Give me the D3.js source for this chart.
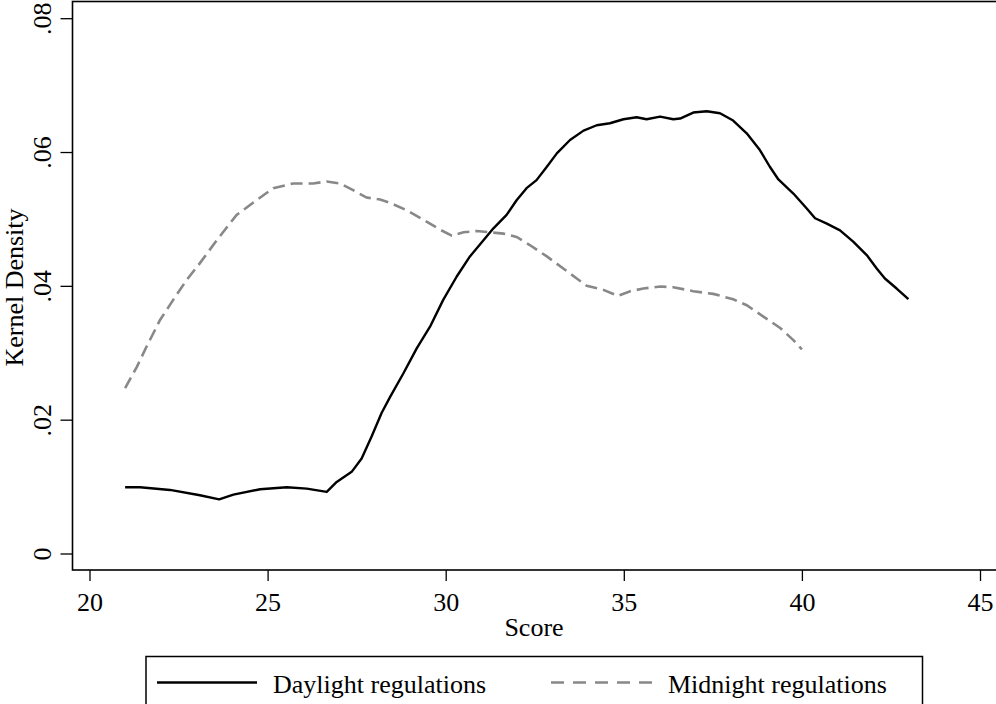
<!DOCTYPE html>
<html>
<head>
<meta charset="utf-8">
<script src="https://cdn.jsdelivr.net/npm/d3@7"></script>
<style>
  body { margin: 0; background: #fff; }
  svg text { font-family: "Liberation Serif", "Times New Roman", serif; font-size: 26px; fill: #000; }
</style>
</head>
<body>
<svg id="chart" width="996" height="704"></svg>
<script>
// data
var daylightScore = [21.0, 21.42, 22.26, 23.1, 23.64, 24.04, 24.79, 25.54, 26.1, 26.66, 26.94, 27.36, 27.64,
  27.92, 28.2, 28.44, 28.81, 29.19, 29.56, 29.93, 30.31, 30.68, 31.06, 31.34, 31.71, 31.99, 32.27, 32.55,
  32.84, 33.12, 33.49, 33.87, 34.24, 34.61, 34.99, 35.36, 35.64, 36.02, 36.39, 36.58, 36.95, 37.33, 37.7,
  38.07, 38.45, 38.82, 39.1, 39.34, 39.76, 40.13, 40.37, 40.7, 41.07, 41.44, 41.82, 42.1, 42.33, 42.66, 42.99];
var daylightDensity = [0.0099, 0.0099, 0.0095, 0.0087, 0.0081, 0.0088, 0.0096, 0.0099, 0.0097, 0.0092, 0.0107,
  0.0122, 0.0142, 0.0175, 0.0210, 0.0234, 0.0269, 0.0307, 0.0339, 0.0379, 0.0414, 0.0444, 0.0468, 0.0486,
  0.0506, 0.0528, 0.0546, 0.0558, 0.0578, 0.0598, 0.0618, 0.0632, 0.0640, 0.0643, 0.0649, 0.0652, 0.0649,
  0.0653, 0.0649, 0.0650, 0.0659, 0.0661, 0.0658, 0.0647, 0.0628, 0.0603, 0.0578, 0.0559, 0.0538, 0.0516,
  0.0501, 0.0493, 0.0483, 0.0466, 0.0446, 0.0426, 0.0411, 0.0396, 0.0380];

var midnightScore = [21.0, 21.33, 21.6, 21.98, 22.35, 22.73, 23.1, 23.57, 24.13, 24.69, 25.16, 25.72, 26.28,
  26.66, 27.03, 27.4, 27.78, 28.16, 28.44, 28.9, 29.37, 29.84, 30.17, 30.5, 30.87, 31.24, 31.62, 31.99,
  32.36, 32.84, 33.3, 33.68, 33.96, 34.43, 34.83, 35.18, 35.55, 36.02, 36.39, 36.95, 37.51, 38.07, 38.45,
  38.92, 39.39, 39.76, 40.0];
var midnightDensity = [0.0247, 0.0279, 0.0309, 0.0349, 0.0379, 0.0409, 0.0434, 0.0468, 0.0506, 0.0528, 0.0546,
  0.0553, 0.0553, 0.0556, 0.0553, 0.0543, 0.0532, 0.0529, 0.0524, 0.0513, 0.0499, 0.0484, 0.0475, 0.0480,
  0.0482, 0.0480, 0.0478, 0.0473, 0.0461, 0.0444, 0.0426, 0.0411, 0.0400, 0.0394, 0.0385, 0.0392, 0.0396,
  0.0399, 0.0398, 0.0392, 0.0388, 0.0380, 0.0371, 0.0354, 0.0337, 0.0319, 0.0305];

var xTicks = [20, 25, 30, 35, 40, 45];
var yTicks = [0, 0.02, 0.04, 0.06, 0.08];
var seriesNames = ["Daylight regulations", "Midnight regulations"];

var svg = d3.select("#chart");

var plotLeft = 72.5, plotTop = 1.5, plotBottom = 570;

var x = d3.scaleLinear().domain([20, 45]).range([89.5, 980]);
var y = d3.scaleLinear().domain([0, 0.08]).range([553.5, 18.2]);

// frame (right side falls outside the picture)
svg.append("rect")
  .attr("x", plotLeft).attr("y", plotTop)
  .attr("width", 940).attr("height", plotBottom - plotTop)
  .attr("fill", "none").attr("stroke", "#000").attr("stroke-width", 1.6);

// x axis
var xAxis = svg.append("g")
  .attr("transform", "translate(0," + plotBottom + ")")
  .call(d3.axisBottom(x).tickValues(xTicks).tickSize(11).tickFormat(d3.format("d")));
xAxis.select(".domain").remove();
xAxis.selectAll("line").attr("stroke", "#000").attr("stroke-width", 1.3);
xAxis.selectAll("text")
  .attr("y", 40.5).attr("dy", 0)
  .attr("font-family", null).attr("font-size", null);

// y axis
var yAxis = svg.append("g")
  .attr("transform", "translate(" + plotLeft + ",0)")
  .call(d3.axisLeft(y).tickValues(yTicks).tickSize(12)
    .tickFormat(function(d) { return d === 0 ? "0" : d3.format(".2f")(d).replace(/^0/, ""); }));
yAxis.select(".domain").remove();
yAxis.selectAll("line").attr("stroke", "#000").attr("stroke-width", 1.3);
yAxis.selectAll("text")
  .attr("x", 0).attr("dy", 0)
  .attr("text-anchor", "middle")
  .attr("transform", "translate(-21.5,0) rotate(-90)")
  .attr("font-family", null).attr("font-size", null);

// axis titles
svg.append("text")
  .attr("x", 534).attr("y", 636)
  .attr("text-anchor", "middle")
  .text("Score");

svg.append("text")
  .attr("transform", "translate(22.5,287.5) rotate(-90)")
  .attr("text-anchor", "middle")
  .text("Kernel Density");

// curves
var line = d3.line()
  .x(function(d) { return x(d[0]); })
  .y(function(d) { return y(d[1]); });

var daylight = d3.zip(daylightScore, daylightDensity);
var midnight = d3.zip(midnightScore, midnightDensity);

svg.append("path")
  .datum(midnight)
  .attr("d", line)
  .attr("fill", "none")
  .attr("stroke", "#888")
  .attr("stroke-width", 2.6)
  .attr("stroke-dasharray", "12,6");

svg.append("path")
  .datum(daylight)
  .attr("d", line)
  .attr("fill", "none")
  .attr("stroke", "#000")
  .attr("stroke-width", 2.4)
  .attr("stroke-linejoin", "round");

// legend
svg.append("rect")
  .attr("x", 146).attr("y", 656.5)
  .attr("width", 776.5).attr("height", 80)
  .attr("fill", "none").attr("stroke", "#000").attr("stroke-width", 1.5);

svg.append("line")
  .attr("x1", 157).attr("x2", 257).attr("y1", 682.5).attr("y2", 682.5)
  .attr("stroke", "#000").attr("stroke-width", 2.4);
svg.append("text").attr("x", 273).attr("y", 692.5).text(seriesNames[0]);

svg.append("line")
  .attr("x1", 551).attr("x2", 652).attr("y1", 682.5).attr("y2", 682.5)
  .attr("stroke", "#888").attr("stroke-width", 2.6).attr("stroke-dasharray", "13,9");
svg.append("text").attr("x", 668).attr("y", 692.5).text(seriesNames[1]);
</script>
</body>
</html>
